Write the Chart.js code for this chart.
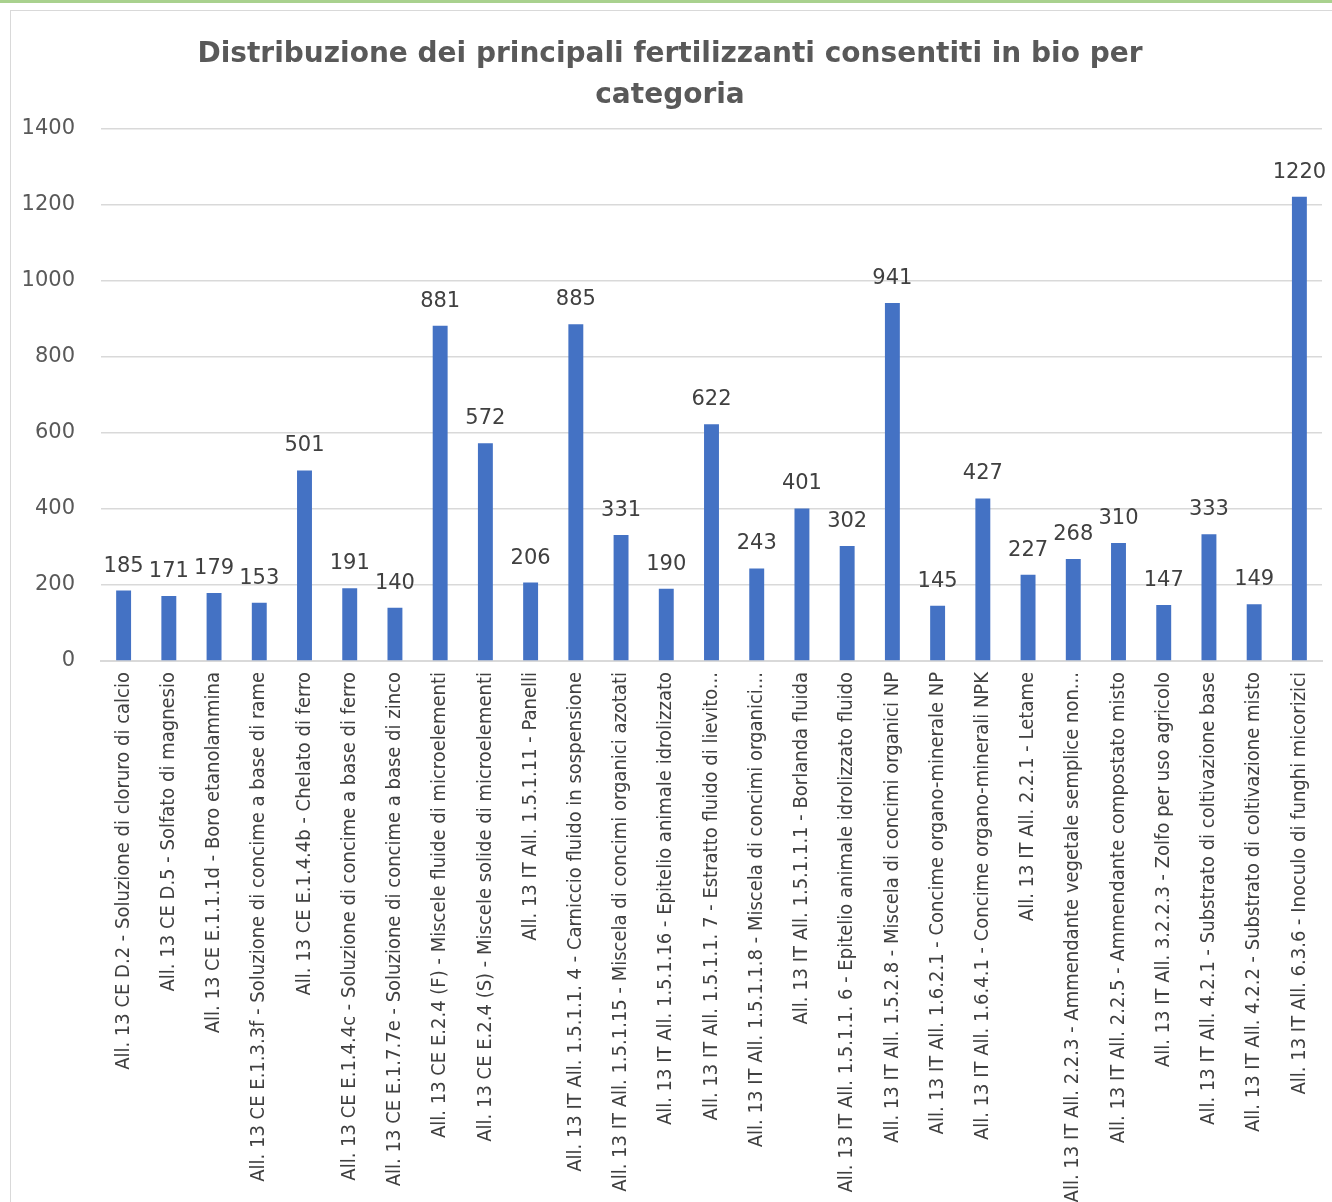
<!DOCTYPE html>
<html>
<head>
<meta charset="utf-8">
<script src="https://cdn.jsdelivr.net/npm/chart.js@4.4.1/dist/chart.umd.min.js"></script>
<style>
  html,body{margin:0;padding:0;background:#fff;overflow:hidden;}
  #topline{position:absolute;left:0;top:0;width:1332px;height:3px;background:#a9d18e;}
  #frame{position:absolute;left:10px;top:10px;width:1340px;height:1200px;border:1px solid #d9d9d9;box-sizing:border-box;}
  #wrap{position:absolute;left:10px;top:10px;width:1322px;height:1192px;}
</style>
</head>
<body>
<div id="topline"></div>
<div id="frame"></div>
<div id="wrap"><canvas id="chart"></canvas></div>
<script>
// categories and counts
const categories = [
  'All. 13 CE D.2 - Soluzione di cloruro di calcio',
  'All. 13 CE D.5 - Solfato di magnesio',
  'All. 13 CE E.1.1.1d - Boro etanolammina',
  'All. 13 CE E.1.3.3f - Soluzione di concime a base di rame',
  'All. 13 CE E.1.4.4b - Chelato di ferro',
  'All. 13 CE E.1.4.4c - Soluzione di concime a base di ferro',
  'All. 13 CE E.1.7.7e - Soluzione di concime a base di zinco',
  'All. 13 CE E.2.4 (F) - Miscele fluide di microelementi',
  'All. 13 CE E.2.4 (S) - Miscele solide di microelementi',
  'All. 13 IT All. 1.5.1.11 - Panelli',
  'All. 13 IT All. 1.5.1.1. 4 - Carniccio fluido in sospensione',
  'All. 13 IT All. 1.5.1.15 - Miscela di concimi organici azotati',
  'All. 13 IT All. 1.5.1.16 - Epitelio animale idrolizzato',
  'All. 13 IT All. 1.5.1.1. 7 - Estratto fluido di lievito...',
  'All. 13 IT All. 1.5.1.1.8 - Miscela di concimi organici...',
  'All. 13 IT All. 1.5.1.1.1 - Borlanda fluida',
  'All. 13 IT All. 1.5.1.1. 6 - Epitelio animale idrolizzato fluido',
  'All. 13 IT All. 1.5.2.8 - Miscela di concimi organici NP',
  'All. 13 IT All. 1.6.2.1 - Concime organo-minerale NP',
  'All. 13 IT All. 1.6.4.1 - Concime organo-minerali NPK',
  'All. 13 IT All. 2.2.1 - Letame',
  'All. 13 IT All. 2.2.3 - Ammendante vegetale semplice non...',
  'All. 13 IT All. 2.2.5 - Ammendante compostato misto',
  'All. 13 IT All. 3.2.2.3 - Zolfo per uso agricolo',
  'All. 13 IT All. 4.2.1 - Substrato di coltivazione base',
  'All. 13 IT All. 4.2.2 - Substrato di coltivazione misto',
  'All. 13 IT All. 6.3.6 - Inoculo di funghi micorizici'
];
const counts = [185, 171, 179, 153, 501, 191, 140, 881, 572, 206, 885, 331, 190, 622,
                243, 401, 302, 941, 145, 427, 227, 268, 310, 147, 333, 149, 1220];
const yTicks = [0, 200, 400, 600, 800, 1000, 1200, 1400];

const labelFont = "'Liberation Sans Narrow', 'DejaVu Sans Condensed', 'Noto Sans', sans-serif";
const numFont = "'DejaVu Sans', 'Noto Sans', sans-serif";

// value labels above bars
const valueLabels = {
  id: 'valueLabels',
  afterDatasetsDraw(chart){
    const ctx = chart.ctx;
    const meta = chart.getDatasetMeta(0);
    ctx.save();
    ctx.font = "21px " + numFont;
    ctx.fillStyle = '#404040';
    ctx.textAlign = 'center';
    ctx.textBaseline = 'bottom';
    meta.data.forEach((bar, i)=>{
      ctx.fillText(String(counts[i]), bar.x, bar.y - 14);
    });
    ctx.restore();
  }
};

new Chart(document.getElementById('chart'), {
  type: 'bar',
  data: {
    labels: categories,
    datasets: [{
      data: counts,
      backgroundColor: '#4472c4',
      barPercentage: 0.55,
      categoryPercentage: 0.6
    }]
  },
  options: {
    responsive: true,
    maintainAspectRatio: false,
    animation: false,
    layout: {padding: {left: 8, right: 10, top: 0, bottom: 0}},
    plugins: {
      legend: {display: false},
      tooltip: {enabled: false},
      title: {
        display: true,
        text: ['Distribuzione dei principali fertilizzanti consentiti in bio per', 'categoria'],
        color: '#595959',
        font: {family: numFont, size: 28, weight: 'bold', lineHeight: 1.47},
        padding: {top: 24, bottom: 12}
      }
    },
    scales: {
      x: {
        grid: {display: false},
        border: {color: '#d9d9d9', width: 2},
        ticks: {
          autoSkip: false,
          maxRotation: 90,
          minRotation: 90,
          color: '#404040',
          padding: 3,
          font: {family: labelFont, size: 20}
        },
        afterFit(scale){ scale.height = 541; }
      },
      y: {
        min: 0,
        max: 1400,
        afterBuildTicks(scale){ scale.ticks = yTicks.map(v=>({value: v})); },
        grid: {color: '#d9d9d9', lineWidth: 1.5, drawTicks: false},
        border: {display: false},
        ticks: {
          color: '#595959',
          padding: 26,
          font: {family: numFont, size: 21},
          callback: (v)=>String(v)
        },
        afterFit(scale){ scale.width = 83; }
      }
    }
  },
  plugins: [valueLabels]
});
</script>
</body>
</html>
